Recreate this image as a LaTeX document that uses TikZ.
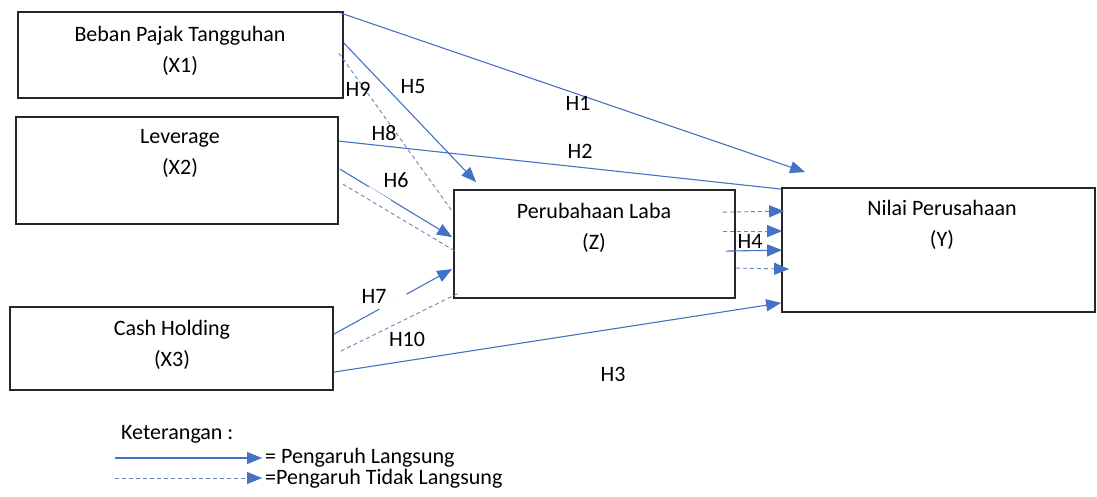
\documentclass[tikz,border=0pt]{standalone}
\usepackage{fontspec}
\setmainfont{Carlito}
\usetikzlibrary{arrows.meta,calc}
\definecolor{lineblue}{HTML}{4472C4}
\definecolor{dashblue}{HTML}{6A84B8}
\begin{document}
\begin{tikzpicture}[x=1pt,y=-1pt,
  box/.style={draw=black!85,line width=1.8pt,rectangle,inner sep=0pt},
  txt/.style={font=\fontsize{22}{31}\selectfont,align=center,inner sep=0pt},
  hl/.style={font=\fontsize{22}{26}\selectfont,inner sep=0pt},
  legtxt/.style={font=\fontsize{22}{26}\selectfont,inner sep=0pt,text height=13pt,text depth=3pt,anchor=west},
  direct/.style={draw=lineblue,line width=1.1pt},
  indirect/.style={draw=dashblue,line width=0.9pt,dash pattern=on 4pt off 3pt},
  tip/.style={-{Triangle[length=15pt,width=12pt,color=lineblue]}}]
\useasboundingbox (0,0) rectangle (1097,497);
% boxes
\node[box,minimum width=325pt,minimum height=86pt] (x1) at (180.5,55) {};
\node[box,minimum width=322pt,minimum height=107pt] (x2) at (177,170.5) {};
\node[box,minimum width=323pt,minimum height=83pt] (x3) at (171.5,348.5) {};
\node[box,minimum width=281pt,minimum height=108pt] (z) at (594.5,244) {};
\node[box,minimum width=313pt,minimum height=124pt] (y) at (938.5,250) {};
% box texts
\node[txt] (tx1) at (180,51) {Beban Pajak Tangguhan\\(X1)};
\node[txt] (tx2) at (180,153) {Leverage\\(X2)};
\node[txt] (tx3) at (172,345) {Cash Holding\\(X3)};
\node[txt] (tz) at (594,228) {Perubahaan Laba\\(Z)};
\node[txt] (ty) at (942,225) {Nilai Perusahaan\\(Y)};
% direct paths to Y
\draw[direct,tip] ($(x1.north east)+(-3,2)$) -- ($(y.north west)+(24,-15)$);
\draw[direct] ($(x2.north east)+(0,25)$) -- ($(y.north west)+(0,2)$);
\draw[direct,tip] ($(x3.north east)+(0,66)$) -- ($(y.south west)+(0,-10)$);
% paths to Z
\draw[direct,tip] ($(x1.north east)+(0,32)$) -- ($(z.north west)+(23,-7)$);
\draw[indirect] ($(x1.north east)+(-5,42)$) -- ($(z.north west)+(-1,22)$);
\draw[direct,tip] ($(x2.north east)+(1,53)$) -- ($(z.north west)+(-1,48)$);
\draw[indirect] ($(x2.north east)+(4,68)$) -- ($(z.north west)+(2,62)$);
\draw[direct,tip] ($(x3.north east)+(0,28)$) -- ($(z.north west)+(-1,80)$);
\draw[indirect] ($(x3.north east)+(7,45)$) -- ($(z.south west)+(6,-6)$);
% gaps in H6 and H7 lines
\draw[white,line width=4pt] (368,188) -- (390,202);
\draw[white,line width=4pt] (380,310) -- (407,295);
% Z to Y
\draw[indirect,tip] ($(z.north east)+(-13,23)$) -- ($(y.north west)+(3,24)$);
\draw[indirect,tip] ($(z.north east)+(-13,42)$) -- ($(y.north west)+(1,44)$);
\draw[direct,tip] ($(z.north east)+(-10,62)$) -- ($(y.north west)+(1,63)$);
\draw[indirect,tip] ($(z.north east)+(0,79)$) -- ($(y.north west)+(8,82)$);
% hypothesis labels
\node[hl] (h1) at (578,103) {H1};
\node[hl] (h2) at (580,151) {H2};
\node[hl] (h3) at (613,374) {H3};
\node[hl] (h4) at (750,241) {H4};
\node[hl] (h5) at (413,87) {H5};
\node[hl] (h6) at (396,180) {H6};
\node[hl] (h7) at (374,296) {H7};
\node[hl] (h8) at (384,133) {H8};
\node[hl] (h9) at (358,89) {H9};
\node[hl] (h10) at (407,339) {H10};
% legend
\node[legtxt] (ket) at (121,434) {Keterangan :};
\coordinate (l1s) at (115,458);
\coordinate (l1e) at (262,458);
\coordinate (l2s) at (115,478);
\coordinate (l2e) at (262,478);
\draw[direct,tip] (l1s) -- (l1e);
\draw[indirect,tip] (l2s) -- (l2e);
\node[legtxt] (leg1) at (265,458) {= Pengaruh Langsung};
\node[legtxt] (leg2) at (265,479) {=Pengaruh Tidak Langsung};
\end{tikzpicture}
\end{document}
